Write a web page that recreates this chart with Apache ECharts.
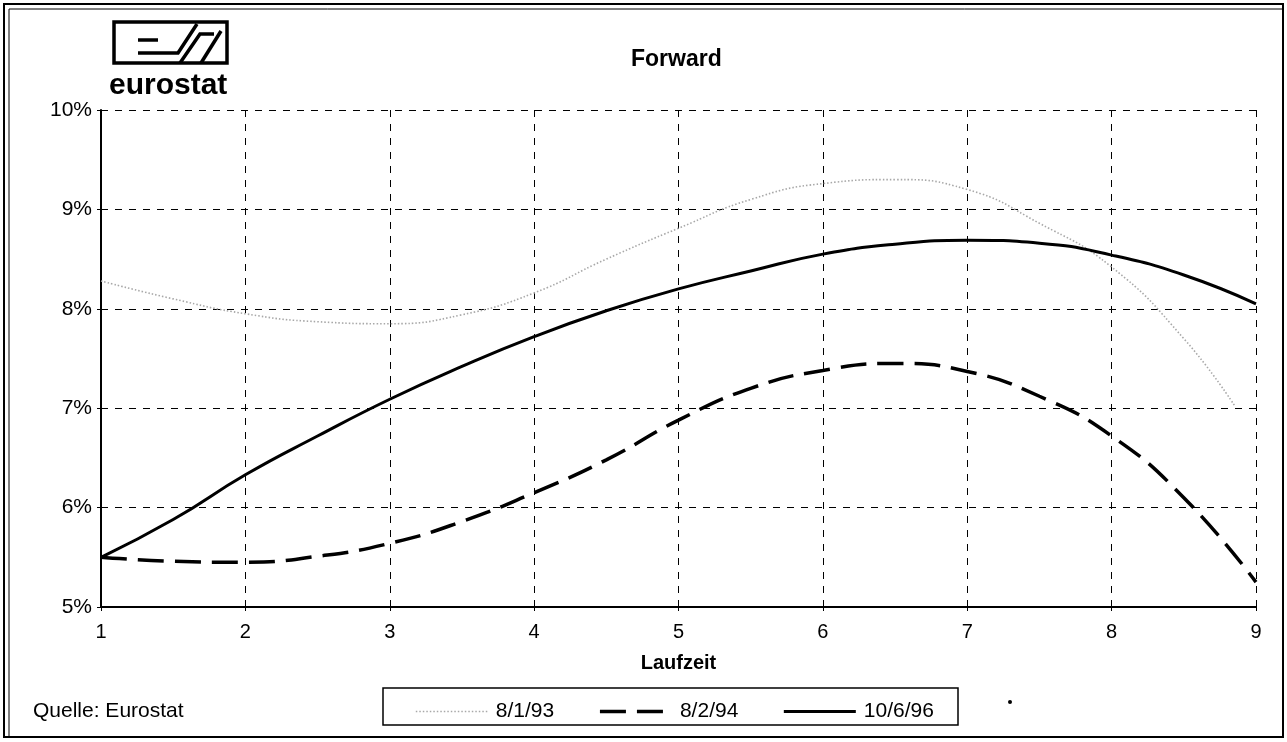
<!DOCTYPE html>
<html>
<head>
<meta charset="utf-8">
<script src="https://cdn.jsdelivr.net/npm/echarts@6/dist/echarts.min.js"></script>
<style>
html,body{margin:0;padding:0;background:#fff;}
#chart{width:1287px;height:742px;}
</style>
</head>
<body>
<div id="chart"></div>
<script>
// ---- data ----
const seriesNames = ['8/1/93', '8/2/94', '10/6/96'];
const xAug93 = [1, 1.5, 2, 2.5, 3, 3.5, 4, 4.5, 5, 5.5, 6, 6.5, 7, 7.5, 8, 8.5, 8.85];
const yAug93 = [8.28, 8.10, 7.95, 7.87, 7.85, 7.94, 8.16, 8.50, 8.81, 9.10, 9.26, 9.30, 9.20, 8.86, 8.42, 7.70, 7.03];
const xMaturity = [1, 1.5, 2, 2.5, 3, 3.5, 4, 4.5, 5, 5.5, 6, 6.5, 7, 7.5, 8, 8.5, 9];
const yFeb94 = [5.50, 5.46, 5.45, 5.51, 5.64, 5.86, 6.15, 6.48, 6.88, 7.20, 7.38, 7.45, 7.37, 7.12, 6.72, 6.10, 5.25];
const yJun96 = [5.50, 5.88, 6.33, 6.72, 7.09, 7.42, 7.72, 7.98, 8.20, 8.38, 8.55, 8.65, 8.69, 8.66, 8.54, 8.34, 8.05];
const xTicks = [1, 2, 3, 4, 5, 6, 7, 8, 9];
const yTicks = [5, 6, 7, 8, 9, 10];

const pairs = (xs, ys) => xs.map((x, i) => [x, ys[i]]);
const FONT = '"Liberation Sans", Arial, Helvetica, sans-serif';

const styles = [
  {color: '#a8a8a8', width: 1.6, type: [1.5, 2]},
  {color: '#000', width: 3.5, type: [26, 11]},
  {color: '#000', width: 3, type: 'solid'}
];

const chart = echarts.init(document.getElementById('chart'), null, {renderer: 'canvas'});
chart.setOption({
  backgroundColor: '#fff',
  animation: false,
  textStyle: {fontFamily: FONT, color: '#000'},
  title: {
    text: 'Forward',
    left: 626, top: 43,
    textStyle: {fontFamily: FONT, fontWeight: 'bold', fontSize: 23, color: '#000'}
  },
  grid: {left: 101, right: 31, top: 110, bottom: 135, containLabel: false},
  xAxis: {
    type: 'value',
    min: xTicks[0], max: xTicks[xTicks.length - 1], interval: 1,
    name: 'Laufzeit',
    nameLocation: 'middle',
    nameGap: 46,
    nameTextStyle: {fontFamily: FONT, fontWeight: 'bold', fontSize: 20, color: '#000'},
    axisLine: {show: true, onZero: false, lineStyle: {color: '#000', width: 2}},
    axisTick: {show: true, length: 4, lineStyle: {color: '#000'}},
    axisLabel: {fontFamily: FONT, fontSize: 20, color: '#000', margin: 15},
    splitLine: {show: true, lineStyle: {color: '#000', width: 1, type: [7, 7]}}
  },
  yAxis: {
    type: 'value',
    min: yTicks[0], max: yTicks[yTicks.length - 1], interval: 1,
    axisLine: {show: true, lineStyle: {color: '#000', width: 2}},
    axisTick: {show: true, length: 4, lineStyle: {color: '#000'}},
    axisLabel: {fontFamily: FONT, fontSize: 21, color: '#000', margin: 9, formatter: '{value}%'},
    splitLine: {show: true, lineStyle: {color: '#000', width: 1, type: [7, 7]}}
  },
  legend: {
    left: 410, top: 696,
    itemWidth: 72, itemHeight: 14, itemGap: 44,
    selectedMode: false,
    itemStyle: {opacity: 0},
    textStyle: {fontFamily: FONT, fontSize: 21, color: '#000', padding: [0, 0, 0, 3]},
    data: seriesNames.map((n, i) => ({name: n, lineStyle: styles[i], itemStyle: {opacity: 0}}))
  },
  series: seriesNames.map((n, i) => ({
    name: n, type: 'line', smooth: true, symbol: 'none',
    data: i === 0 ? pairs(xAug93, yAug93) : pairs(xMaturity, i === 1 ? yFeb94 : yJun96),
    lineStyle: styles[i],
    itemStyle: {color: styles[i].color},
    z: 2 + i
  })),
  graphic: [
    // outer frame
    {type: 'rect', shape: {x: 4, y: 4, width: 1279, height: 733}, style: {fill: null, stroke: '#000', lineWidth: 2}, silent: true},
    {type: 'polyline', shape: {points: [[9, 737], [9, 9], [1283, 9]]}, style: {fill: null, stroke: '#000', lineWidth: 1}, silent: true},
    // logo
    {type: 'rect', shape: {x: 114, y: 22, width: 113, height: 41}, style: {fill: null, stroke: '#000', lineWidth: 3.5}, silent: true},
    {type: 'polyline', shape: {points: [[138, 40], [158, 40]]}, style: {fill: null, stroke: '#000', lineWidth: 3.5}, silent: true},
    {type: 'polyline', shape: {points: [[138, 53], [178, 53], [197, 24]]}, style: {fill: null, stroke: '#000', lineWidth: 3.5}, silent: true},
    {type: 'polyline', shape: {points: [[180, 63], [200, 34], [214, 34]]}, style: {fill: null, stroke: '#000', lineWidth: 3.5}, silent: true},
    {type: 'polyline', shape: {points: [[201, 63], [221, 31]]}, style: {fill: null, stroke: '#000', lineWidth: 3.5}, silent: true},
    {type: 'text', left: 109, top: 71, style: {text: 'eurostat', fontFamily: FONT, fontWeight: 'bold', fontSize: 30, fill: '#000'}, silent: true},
    // source
    {type: 'text', left: 33, top: 701, style: {text: 'Quelle: Eurostat', fontFamily: FONT, fontSize: 21, fill: '#000'}, silent: true},
    // legend box
    {type: 'rect', shape: {x: 383, y: 688, width: 575, height: 37}, style: {fill: null, stroke: '#000', lineWidth: 1.5}, silent: true, z: -1},
    // stray dot
    {type: 'circle', shape: {cx: 1010, cy: 702, r: 2}, style: {fill: '#000'}, silent: true}
  ]
});
</script>
</body>
</html>
